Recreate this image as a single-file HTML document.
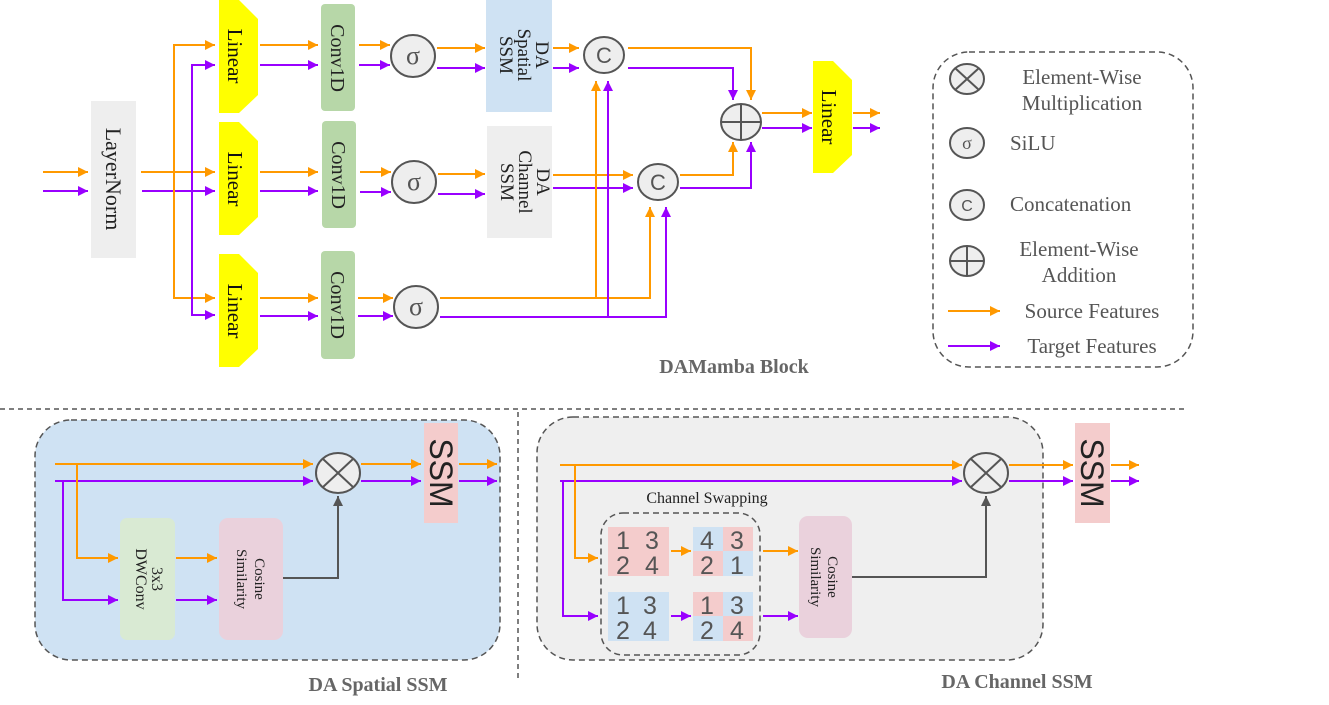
<!DOCTYPE html>
<html><head><meta charset="utf-8"><style>
html,body{margin:0;padding:0;background:#fff;}
svg{display:block;font-family:"Liberation Serif",serif;}
</style></head><body>
<svg width="1329" height="705" viewBox="0 0 1329 705" xmlns="http://www.w3.org/2000/svg">
<defs>
<marker id="ao" viewBox="0 0 10 10" refX="10" refY="5" markerWidth="10" markerHeight="10" markerUnits="userSpaceOnUse" orient="auto"><path d="M0,0L10,5L0,10z" fill="#ff9900"/></marker>
<marker id="ap" viewBox="0 0 10 10" refX="10" refY="5" markerWidth="10" markerHeight="10" markerUnits="userSpaceOnUse" orient="auto"><path d="M0,0L10,5L0,10z" fill="#9900ff"/></marker>
<marker id="ag" viewBox="0 0 10 10" refX="10" refY="5" markerWidth="10" markerHeight="10" markerUnits="userSpaceOnUse" orient="auto"><path d="M0,0L10,5L0,10z" fill="#555"/></marker>
</defs>
<g fill="none" stroke-width="2">
<path d="M43,172H88" stroke="#ff9900" marker-end="url(#ao)"/>
<path d="M43,191H88" stroke="#9900ff" marker-end="url(#ap)"/>
</g>
<rect x="91" y="101" width="45" height="157" fill="#eeeeee"/>
<text transform="translate(106,179) rotate(90)" text-anchor="middle" font-size="22" fill="#222">LayerNorm</text>

<g fill="none" stroke-width="2">
<path d="M141,172H215" stroke="#ff9900" marker-end="url(#ao)"/>
<path d="M142,191H215" stroke="#9900ff" marker-end="url(#ap)"/>
<path d="M215,45H174V298H215" stroke="#ff9900"/>
<path d="M205,45H215" stroke="#ff9900" marker-end="url(#ao)"/>
<path d="M205,298H215" stroke="#ff9900" marker-end="url(#ao)"/>
<path d="M215,65H192V315H215" stroke="#9900ff"/>
<path d="M205,65H215" stroke="#9900ff" marker-end="url(#ap)"/>
<path d="M205,315H215" stroke="#9900ff" marker-end="url(#ap)"/>
</g>

<g fill="#ffff00">
<path d="M219,0H239L258,19V95L239,113H219Z"/>
<path d="M219,122H239L258,141V217L239,235H219Z"/>
<path d="M219,254H239L258,273V349L239,367H219Z"/>
<path d="M813,61H833L852,80V155L833,173H813Z"/>
</g>
<g font-size="21" fill="#111" text-anchor="middle">
<text transform="translate(228,56) rotate(90)">Linear</text>
<text transform="translate(228,179) rotate(90)">Linear</text>
<text transform="translate(228,311) rotate(90)">Linear</text>
<text transform="translate(822,117) rotate(90)">Linear</text>
</g>

<g fill="none" stroke-width="2">
<path d="M260,45H318" stroke="#ff9900" marker-end="url(#ao)"/>
<path d="M260,65H318" stroke="#9900ff" marker-end="url(#ap)"/>
<path d="M260,172H318" stroke="#ff9900" marker-end="url(#ao)"/>
<path d="M260,191H318" stroke="#9900ff" marker-end="url(#ap)"/>
<path d="M260,298H318" stroke="#ff9900" marker-end="url(#ao)"/>
<path d="M260,316H318" stroke="#9900ff" marker-end="url(#ap)"/>
</g>

<g fill="#b7d7a8">
<rect x="321" y="4" width="34" height="107" rx="4"/>
<rect x="322" y="121" width="34" height="107" rx="4"/>
<rect x="321" y="251" width="34" height="108" rx="4"/>
</g>
<g font-size="20" fill="#222" text-anchor="middle">
<text transform="translate(331,58) rotate(90)">Conv1D</text>
<text transform="translate(332,175) rotate(90)">Conv1D</text>
<text transform="translate(331,305) rotate(90)">Conv1D</text>
</g>

<g fill="none" stroke-width="2">
<path d="M359,45H390" stroke="#ff9900" marker-end="url(#ao)"/>
<path d="M359,65H390" stroke="#9900ff" marker-end="url(#ap)"/>
<path d="M360,172H391" stroke="#ff9900" marker-end="url(#ao)"/>
<path d="M360,192H391" stroke="#9900ff" marker-end="url(#ap)"/>
<path d="M358,298H393" stroke="#ff9900" marker-end="url(#ao)"/>
<path d="M358,316H393" stroke="#9900ff" marker-end="url(#ap)"/>
</g>

<g fill="#eeeeee" stroke="#555" stroke-width="2">
<ellipse cx="413" cy="56" rx="22" ry="21"/>
<ellipse cx="414" cy="182" rx="22" ry="21"/>
<ellipse cx="416" cy="307" rx="22" ry="21"/>
</g>
<g font-size="26" fill="#555" text-anchor="middle">
<text x="413" y="64">σ</text>
<text x="414" y="190">σ</text>
<text x="416" y="315">σ</text>
</g>

<g fill="none" stroke-width="2">
<path d="M437,48H485" stroke="#ff9900" marker-end="url(#ao)"/>
<path d="M437,68H485" stroke="#9900ff" marker-end="url(#ap)"/>
<path d="M438,174H485" stroke="#ff9900" marker-end="url(#ao)"/>
<path d="M438,194H485" stroke="#9900ff" marker-end="url(#ap)"/>
</g>

<rect x="486" y="0" width="66" height="112" fill="#cfe2f3"/>
<rect x="487" y="126" width="65" height="112" fill="#eeeeee"/>
<g font-size="19" fill="#222" text-anchor="middle">
<text transform="translate(536,55) rotate(90)">DA</text>
<text transform="translate(518,55) rotate(90)">Spatial</text>
<text transform="translate(500,55) rotate(90)">SSM</text>
<text transform="translate(537,182) rotate(90)">DA</text>
<text transform="translate(519,182) rotate(90)">Channel</text>
<text transform="translate(501,182) rotate(90)">SSM</text>
</g>

<g fill="none" stroke-width="2">
<path d="M553,48H579" stroke="#ff9900" marker-end="url(#ao)"/>
<path d="M553,68H579" stroke="#9900ff" marker-end="url(#ap)"/>
<path d="M553,175H633" stroke="#ff9900" marker-end="url(#ao)"/>
<path d="M553,188H633" stroke="#9900ff" marker-end="url(#ap)"/>
<path d="M440,298H650V207" stroke="#ff9900" marker-end="url(#ao)"/>
<path d="M596,298V81" stroke="#ff9900" marker-end="url(#ao)"/>
<path d="M440,317H666V207" stroke="#9900ff" marker-end="url(#ap)"/>
<path d="M608,317V81" stroke="#9900ff" marker-end="url(#ap)"/>
<path d="M628,48H751V100" stroke="#ff9900" marker-end="url(#ao)"/>
<path d="M628,68H733V100" stroke="#9900ff" marker-end="url(#ap)"/>
<path d="M680,175H733V142" stroke="#ff9900" marker-end="url(#ao)"/>
<path d="M680,188H751V142" stroke="#9900ff" marker-end="url(#ap)"/>
<path d="M762,113H812" stroke="#ff9900" marker-end="url(#ao)"/>
<path d="M762,128H812" stroke="#9900ff" marker-end="url(#ap)"/>
<path d="M853,113H880" stroke="#ff9900" marker-end="url(#ao)"/>
<path d="M853,128H880" stroke="#9900ff" marker-end="url(#ap)"/>
</g>

<g fill="#eeeeee" stroke="#555" stroke-width="2">
<ellipse cx="604" cy="55" rx="20" ry="18"/>
<ellipse cx="658" cy="182" rx="20" ry="18"/>
<ellipse cx="741" cy="122" rx="20" ry="18"/>
</g>
<path d="M721,122H761M741,104V140" stroke="#555" stroke-width="2"/>
<g font-size="22" fill="#555" text-anchor="middle" font-family="Liberation Sans,sans-serif">
<text x="604" y="63">C</text>
<text x="658" y="190">C</text>
</g>

<text x="734" y="373" text-anchor="middle" font-size="20" font-weight="bold" fill="#666">DAMamba Block</text>

<rect x="933" y="52" width="260" height="315" rx="36" fill="none" stroke="#555" stroke-width="1.5" stroke-dasharray="6,4"/>
<g fill="#eeeeee" stroke="#555" stroke-width="2">
<ellipse cx="967" cy="79" rx="17" ry="15"/>
<ellipse cx="967" cy="143" rx="17" ry="15"/>
<ellipse cx="967" cy="205" rx="17" ry="15"/>
<ellipse cx="967" cy="261" rx="17" ry="15"/>
</g>
<path d="M955,68L979,90M979,68L955,90M950,261H984M967,246V276" stroke="#555" stroke-width="2"/>
<g font-size="18" fill="#555" text-anchor="middle">
<text x="967" y="149">σ</text>
</g>
<text x="967" y="211" font-size="16" fill="#555" text-anchor="middle" font-family="Liberation Sans,sans-serif">C</text>
<g font-size="21" fill="#555">
<text x="1082" y="84" text-anchor="middle">Element-Wise</text>
<text x="1082" y="110" text-anchor="middle">Multiplication</text>
<text x="1010" y="150">SiLU</text>
<text x="1010" y="211">Concatenation</text>
<text x="1079" y="256" text-anchor="middle">Element-Wise</text>
<text x="1079" y="282" text-anchor="middle">Addition</text>
<text x="1092" y="318" text-anchor="middle">Source Features</text>
<text x="1092" y="353" text-anchor="middle">Target Features</text>
</g>
<path d="M948,311H1000" stroke="#ff9900" stroke-width="2" marker-end="url(#ao)"/>
<path d="M948,346H1000" stroke="#9900ff" stroke-width="2" marker-end="url(#ap)"/>

<path d="M0,409H1185" stroke="#555" stroke-width="1.5" stroke-dasharray="5,4"/>
<path d="M518,412V680" stroke="#555" stroke-width="1.5" stroke-dasharray="5,4"/>

<rect x="35" y="420" width="465" height="240" rx="36" fill="#cfe2f3" stroke="#555" stroke-width="1.5" stroke-dasharray="6,4"/>
<rect x="424" y="423" width="34" height="100" fill="#f4cccc"/>
<text transform="translate(430,473) rotate(90)" text-anchor="middle" font-size="32" fill="#222" font-family="Liberation Sans,sans-serif">SSM</text>
<rect x="120" y="518" width="55" height="122" rx="7" fill="#d9ead3"/>
<rect x="219" y="518" width="64" height="122" rx="9" fill="#ead1dc"/>
<g font-size="16" fill="#222" text-anchor="middle">
<text transform="translate(152,579) rotate(90)">3x3</text>
<text transform="translate(136,579) rotate(90)">DWConv</text>
<text transform="translate(255,579) rotate(90)" font-size="15">Cosine</text>
<text transform="translate(237,579) rotate(90)" font-size="15">Similarity</text>
</g>
<g fill="none" stroke-width="2">
<path d="M55,464H313" stroke="#ff9900" marker-end="url(#ao)"/>
<path d="M55,481H313" stroke="#9900ff" marker-end="url(#ap)"/>
<path d="M77,464V558H118" stroke="#ff9900" marker-end="url(#ao)"/>
<path d="M63,481V600H118" stroke="#9900ff" marker-end="url(#ap)"/>
<path d="M176,558H217" stroke="#ff9900" marker-end="url(#ao)"/>
<path d="M176,600H217" stroke="#9900ff" marker-end="url(#ap)"/>
<path d="M283,578H338V496" stroke="#555" marker-end="url(#ag)"/>
<path d="M361,464H421" stroke="#ff9900" marker-end="url(#ao)"/>
<path d="M361,481H421" stroke="#9900ff" marker-end="url(#ap)"/>
<path d="M459,464H497" stroke="#ff9900" marker-end="url(#ao)"/>
<path d="M459,481H497" stroke="#9900ff" marker-end="url(#ap)"/>
</g>
<ellipse cx="338" cy="473" rx="22" ry="20" fill="#eeeeee" stroke="#555" stroke-width="2"/>
<path d="M323,459L353,487M353,459L323,487" stroke="#555" stroke-width="2"/>
<text x="378" y="691" text-anchor="middle" font-size="20" font-weight="bold" fill="#666">DA Spatial SSM</text>

<rect x="537" y="417" width="506" height="243" rx="36" fill="#efefef" stroke="#555" stroke-width="1.5" stroke-dasharray="6,4"/>
<rect x="1075" y="423" width="35" height="100" fill="#f4cccc"/>
<text transform="translate(1081,473) rotate(90)" text-anchor="middle" font-size="32" fill="#222" font-family="Liberation Sans,sans-serif">SSM</text>
<text x="707" y="503" text-anchor="middle" font-size="16" fill="#222">Channel Swapping</text>
<rect x="601" y="513" width="159" height="142" rx="22" fill="none" stroke="#555" stroke-width="1.5" stroke-dasharray="6,4"/>
<rect x="608" y="527" width="61" height="49" fill="#f4cccc"/>
<rect x="608" y="592" width="61" height="49" fill="#cfe2f3"/>
<rect x="693" y="527" width="31" height="25" fill="#cfe2f3"/>
<rect x="723" y="527" width="30" height="25" fill="#f4cccc"/>
<rect x="693" y="551" width="31" height="25" fill="#f4cccc"/>
<rect x="723" y="551" width="30" height="25" fill="#cfe2f3"/>
<rect x="693" y="592" width="31" height="25" fill="#f4cccc"/>
<rect x="723" y="592" width="30" height="25" fill="#cfe2f3"/>
<rect x="693" y="616" width="31" height="25" fill="#cfe2f3"/>
<rect x="723" y="616" width="30" height="25" fill="#f4cccc"/>
<g font-size="25" fill="#555" text-anchor="middle" font-family="Liberation Sans,sans-serif">
<text x="623" y="549">1</text><text x="652" y="549">3</text>
<text x="623" y="574">2</text><text x="652" y="574">4</text>
<text x="623" y="614">1</text><text x="650" y="614">3</text>
<text x="623" y="639">2</text><text x="650" y="639">4</text>
<text x="707" y="549">4</text><text x="737" y="549">3</text>
<text x="707" y="574">2</text><text x="737" y="574">1</text>
<text x="707" y="614">1</text><text x="737" y="614">3</text>
<text x="707" y="639">2</text><text x="737" y="639">4</text>
</g>
<rect x="799" y="516" width="53" height="122" rx="9" fill="#ead1dc"/>
<g font-size="15" fill="#222" text-anchor="middle">
<text transform="translate(828,577) rotate(90)">Cosine</text>
<text transform="translate(811,577) rotate(90)">Similarity</text>
</g>
<g fill="none" stroke-width="2">
<path d="M560,465H962" stroke="#ff9900" marker-end="url(#ao)"/>
<path d="M560,481H962" stroke="#9900ff" marker-end="url(#ap)"/>
<path d="M575,465V558H598" stroke="#ff9900" marker-end="url(#ao)"/>
<path d="M563,481V616H598" stroke="#9900ff" marker-end="url(#ap)"/>
<path d="M671,551H691" stroke="#ff9900" marker-end="url(#ao)"/>
<path d="M671,616H691" stroke="#9900ff" marker-end="url(#ap)"/>
<path d="M763,551H798" stroke="#ff9900" marker-end="url(#ao)"/>
<path d="M763,616H798" stroke="#9900ff" marker-end="url(#ap)"/>
<path d="M852,577H986V496" stroke="#555" marker-end="url(#ag)"/>
<path d="M1009,465H1073" stroke="#ff9900" marker-end="url(#ao)"/>
<path d="M1009,481H1073" stroke="#9900ff" marker-end="url(#ap)"/>
<path d="M1111,465H1139" stroke="#ff9900" marker-end="url(#ao)"/>
<path d="M1111,481H1139" stroke="#9900ff" marker-end="url(#ap)"/>
</g>
<ellipse cx="986" cy="473" rx="22" ry="20" fill="#eeeeee" stroke="#555" stroke-width="2"/>
<path d="M971,459L1001,487M1001,459L971,487" stroke="#555" stroke-width="2"/>
<text x="1017" y="688" text-anchor="middle" font-size="20" font-weight="bold" fill="#666">DA Channel SSM</text>
</svg>
</body></html>
